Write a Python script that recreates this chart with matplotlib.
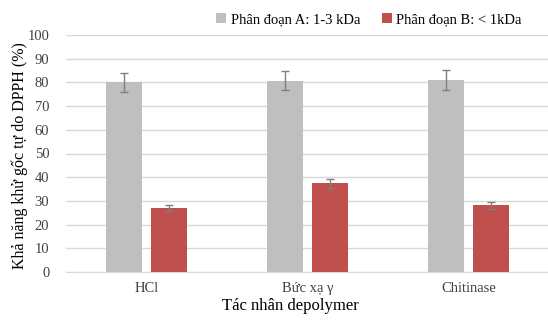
import numpy as np
import matplotlib.pyplot as plt

categories = ['HCl', 'Bức xạ γ', 'Chitinase']
frac_a = [80.0, 80.8, 81.1]
frac_a_err = [4.0, 4.2, 4.2]
frac_b = [27.0, 37.4, 28.1]
frac_b_err = [1.3, 1.9, 1.5]
series_labels = ['Phân đoạn A: 1-3 kDa', 'Phân đoạn B: < 1kDa']

plt.rcParams['font.family'] = ['Liberation Serif', 'DejaVu Serif']

fig = plt.figure(figsize=(5.48, 3.2), dpi=100)
ax = fig.add_axes([66/548, 48/320, 483/548, 237/320])

x = np.arange(len(categories))
w = 0.223
err_kw = dict(ecolor='#7f7f7f', elinewidth=1.0, capsize=3, capthick=1.0)
ax.bar(x - 0.142, frac_a, w, yerr=frac_a_err, color='#bfbfbf', label=series_labels[0],
       error_kw=err_kw, zorder=3)
ax.bar(x + 0.142, frac_b, w, yerr=frac_b_err, color='#c0504d', label=series_labels[1],
       error_kw=err_kw, zorder=3)

ax.set_xlim(-0.5, 2.5)
ax.set_ylim(0, 100)
ax.set_yticks(range(0, 101, 10))
ax.set_xticks(x)
ax.set_xticklabels(categories)
ax.tick_params(axis='both', length=0, labelsize=10.5, colors='#404040')
ax.tick_params(axis='x', pad=7)
ax.tick_params(axis='y', pad=12)
ax.grid(axis='y', color='#d9d9d9', linewidth=1.0, zorder=0)
for s in ['top', 'right', 'left']:
    ax.spines[s].set_visible(False)
ax.spines['bottom'].set_color('#d9d9d9')

ax.set_xlabel('Tác nhân depolymer', fontsize=12)
ax.xaxis.set_label_coords((290 - 66) / 483, -26 / 237)
ax.set_ylabel('Khả năng khử gốc tự do DPPH (%)', fontsize=11.5)
ax.yaxis.set_label_coords(-38 / 483, 0.49)

leg = fig.legend(loc='upper right', bbox_to_anchor=(0.976, 1.0), ncol=2, frameon=False,
                 fontsize=10.5, handlelength=0.7, handleheight=0.7, handletextpad=0.3,
                 columnspacing=1.5)

fig.savefig('out.png', dpi=100)
